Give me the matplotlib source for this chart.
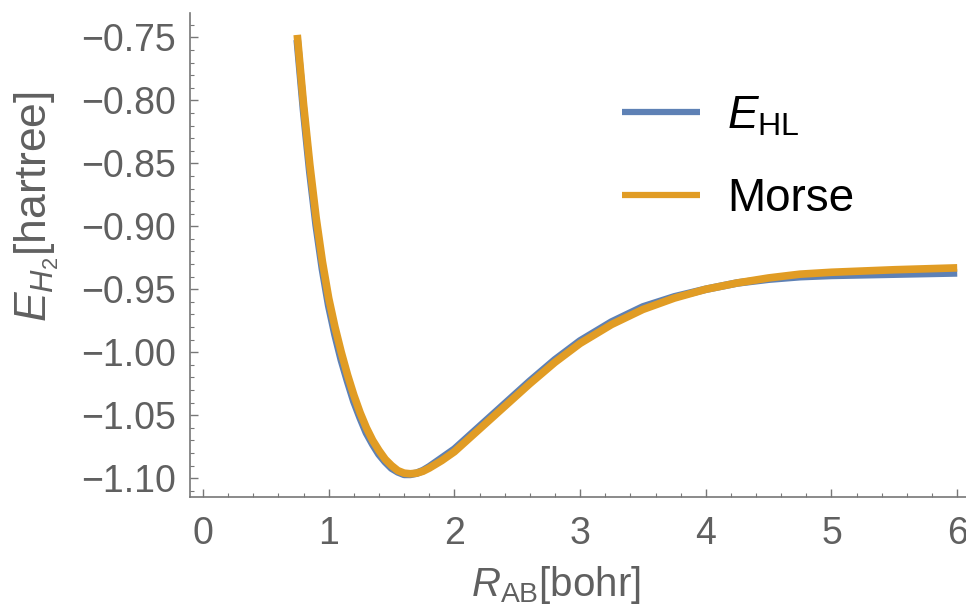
import numpy as np
import matplotlib
matplotlib.use("Agg")
import matplotlib.pyplot as plt
import matplotlib.ticker as ticker

# bond distance R_AB [bohr]
r_ab = [0.75, 0.80, 0.85, 0.90, 0.95, 1.00, 1.05, 1.10, 1.15, 1.20,
        1.25, 1.30, 1.35, 1.40, 1.45, 1.50, 1.55, 1.60, 1.65, 1.70,
        1.75, 1.80, 1.90, 2.00, 2.10, 2.20, 2.40, 2.60, 2.80, 3.00,
        3.25, 3.50, 3.75, 4.00, 4.25, 4.50, 4.75, 5.00, 5.50, 6.00]

# Heitler-London energy [hartree]
e_hl = [-0.752, -0.808, -0.857, -0.899, -0.934, -0.963, -0.986, -1.006, -1.023, -1.039,
        -1.052, -1.064, -1.073, -1.081, -1.087, -1.092, -1.095, -1.097, -1.097, -1.096,
        -1.094, -1.091, -1.084, -1.077, -1.068, -1.059, -1.041, -1.023, -1.006, -0.991,
        -0.976, -0.964, -0.956, -0.950, -0.945, -0.942, -0.940, -0.939, -0.938, -0.937]

# Morse fit [hartree]
e_morse = [-0.748, -0.803, -0.851, -0.893, -0.928, -0.957, -0.980, -1.000, -1.018, -1.034,
           -1.048, -1.060, -1.070, -1.078, -1.085, -1.090, -1.094, -1.096, -1.0965, -1.096,
           -1.0945, -1.092, -1.086, -1.079, -1.070, -1.061, -1.043, -1.025, -1.008, -0.993,
           -0.978, -0.966, -0.957, -0.950, -0.945, -0.941, -0.938, -0.9365, -0.9345, -0.933]

x_ticks = [0, 1, 2, 3, 4, 5, 6]
y_ticks = [-0.75, -0.80, -0.85, -0.90, -0.95, -1.00, -1.05, -1.10]

BLUE = "#5E81B5"
ORANGE = "#E19C24"
TEXT_GRAY = "#606060"
AXIS_GRAY = "#777777"

plt.rcParams["font.family"] = ["Liberation Sans", "DejaVu Sans"]
plt.rcParams["mathtext.fontset"] = "custom"
plt.rcParams["mathtext.rm"] = "Liberation Sans"
plt.rcParams["mathtext.it"] = "Liberation Sans:italic"
plt.rcParams["mathtext.bf"] = "Liberation Sans:bold"

fig = plt.figure(figsize=(9.66, 6.12), dpi=100)
ax = fig.add_axes([0.1967, 0.188, 0.8033, 0.79])

ax.plot(r_ab, e_hl, color=BLUE, lw=5.5, solid_capstyle="butt",
        solid_joinstyle="round", label=r"$E_{\mathrm{HL}}$")
ax.plot(r_ab, e_morse, color=ORANGE, lw=5.5, solid_capstyle="butt",
        solid_joinstyle="round", label="Morse")

ax.set_xlim(-0.103, 6.07)
ax.set_ylim(-1.1149, -0.731)

ax.set_xticks(x_ticks)
ax.set_xticklabels([str(t) for t in x_ticks])
ax.set_yticks(y_ticks)
ax.set_yticklabels([f"\u2212{abs(t):.2f}" for t in y_ticks])
ax.xaxis.set_minor_locator(ticker.MultipleLocator(0.2))
ax.yaxis.set_minor_locator(ticker.MultipleLocator(0.01))

for side in ("top", "right"):
    ax.spines[side].set_visible(False)
for side in ("left", "bottom"):
    ax.spines[side].set_color(AXIS_GRAY)
    ax.spines[side].set_linewidth(1.2)

ax.tick_params(which="both", direction="in", color=AXIS_GRAY,
               labelcolor=TEXT_GRAY, labelsize=27)
ax.tick_params(which="major", length=6, width=1.0)
ax.tick_params(which="minor", length=3, width=0.8)
ax.tick_params(axis="x", pad=14)
ax.tick_params(axis="y", pad=10)

ax.set_xlabel(r"$R_{\mathrm{AB}}$[bohr]", fontsize=29, color=TEXT_GRAY)
ax.xaxis.set_label_coords(0.472, -0.138)
ax.set_ylabel(r"$E_{H_2}$[hartree]", fontsize=32, color=TEXT_GRAY)
ax.yaxis.set_label_coords(-0.166, 0.6)

leg = ax.legend(loc="upper left", bbox_to_anchor=(0.503, 0.918), frameon=False,
                fontsize=33, handlelength=1.7, handletextpad=0.6,
                labelspacing=0.85)
for line in leg.get_lines():
    line.set_linewidth(4.5)

fig.savefig("out.png", dpi=100)
